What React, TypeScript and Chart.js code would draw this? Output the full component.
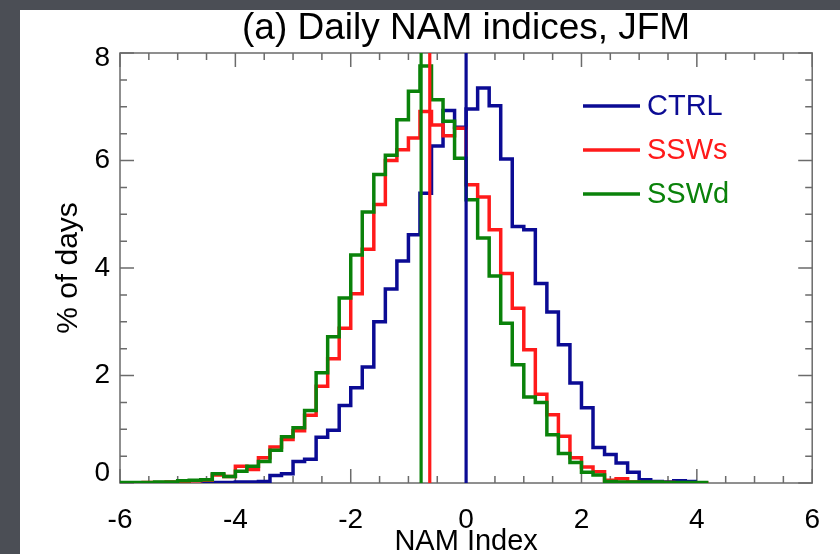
import React, { useEffect, useRef } from "react";
import { Chart, registerables } from "chart.js";

Chart.register(...registerables);

// Histogram bin edges (NAM index), bin width 0.2
const binEdges = [
  -6.0, -5.8, -5.6, -5.4, -5.2, -5.0, -4.8, -4.6, -4.4, -4.2,
  -4.0, -3.8, -3.6, -3.4, -3.2, -3.0, -2.8, -2.6, -2.4, -2.2,
  -2.0, -1.8, -1.6, -1.4, -1.2, -1.0, -0.8, -0.6, -0.4, -0.2,
  0.0, 0.2, 0.4, 0.6, 0.8, 1.0, 1.2, 1.4, 1.6, 1.8,
  2.0, 2.2, 2.4, 2.6, 2.8, 3.0, 3.2, 3.4, 3.6, 3.8,
  4.0, 4.2,
];

// % of days per bin (one value per bin, aligned with binEdges[i]..binEdges[i+1])
const ctrlValues: (number | null)[] = [
  null, null, null, null, null, null, null, 0.01, 0.01, 0.01,
  0.02, 0.02, 0.03, 0.14, 0.17, 0.40, 0.44, 0.85, 0.98, 1.44,
  1.77, 2.16, 3.00, 3.61, 4.13, 4.62, 5.39, 6.27, 6.93, 6.62,
  6.96, 7.35, 7.02, 6.03, 4.77, 4.71, 3.71, 3.18, 2.57, 1.86,
  1.40, 0.66, 0.53, 0.37, 0.20, 0.06, 0.03, 0.02, 0.04, 0.03,
  null,
];

const sswsValues: (number | null)[] = [
  0.00, 0.00, 0.01, 0.01, 0.02, 0.03, 0.04, 0.05, 0.15, 0.12,
  0.31, 0.25, 0.47, 0.67, 0.81, 0.97, 1.26, 1.80, 2.31, 2.88,
  3.52, 4.35, 5.18, 6.00, 6.20, 6.42, 6.91, 6.66, 6.46, 6.60,
  5.55, 5.32, 4.71, 3.90, 3.25, 2.48, 1.65, 1.27, 0.87, 0.47,
  0.30, 0.21, 0.05, 0.08, 0.02, 0.01, 0.01, 0.01, 0.00, 0.00,
  0.00,
];

const sswdValues: (number | null)[] = [
  0.01, 0.01, 0.01, 0.02, 0.02, 0.04, 0.05, 0.06, 0.17, 0.12,
  0.22, 0.31, 0.40, 0.61, 0.86, 1.03, 1.35, 2.05, 2.72, 3.44,
  4.24, 5.04, 5.74, 6.10, 6.76, 7.29, 7.76, 7.13, 6.73, 6.04,
  5.27, 4.56, 3.85, 2.97, 2.20, 1.60, 1.50, 0.90, 0.55, 0.38,
  0.20, 0.15, 0.03, 0.02, 0.02, 0.02, 0.02, 0.01, 0.01, 0.01,
  0.01,
];

// Mean NAM index of each experiment (vertical lines)
const meanValues = [0.0, -0.63, -0.78];

const seriesNames = ["CTRL", "SSWs", "SSWd"];
const seriesColors = ["#0b0b94", "#ff1a1a", "#0a820a"];

const xTickLabels = [-6, -4, -2, 0, 2, 4, 6];
const yTickLabels = [0, 2, 4, 6, 8];

const FONT = "'Liberation Sans', Arial, Helvetica, sans-serif";
const W = 840;
const H = 554;

function toSteps(values: (number | null)[]) {
  const pts: { x: number; y: number }[] = [];
  let last = -1;
  values.forEach((v, i) => {
    if (v !== null) {
      pts.push({ x: binEdges[i], y: v });
      last = i;
    }
  });
  if (last >= 0) pts.push({ x: binEdges[last + 1], y: values[last] as number });
  return pts;
}

const framePlugin = {
  id: "idlFrame",
  beforeDraw(chart: any) {
    const { ctx, width, height } = chart;
    ctx.save();
    ctx.fillStyle = "#4b4e55";
    ctx.fillRect(0, 0, width, 10);
    ctx.fillRect(0, 0, 20, height);
    ctx.fillStyle = "#ffffff";
    ctx.fillRect(20, 10, width + 40, height + 40);
    ctx.restore();
  },
  beforeDatasetsDraw(chart: any) {
    const { ctx, chartArea: a, scales } = chart;
    const xs = scales.x;
    const ys = scales.y;
    ctx.save();
    ctx.strokeStyle = "#6b6b6b";
    ctx.lineWidth = 1.5;
    ctx.strokeRect(a.left, a.top, a.right - a.left, a.bottom - a.top);
    ctx.beginPath();
    for (let k = 0; k <= 24; k++) {
      const v = xs.min + k * 0.5;
      const px = xs.getPixelForValue(v);
      const len = k % 4 === 0 ? 14 : 7;
      ctx.moveTo(px, a.bottom);
      ctx.lineTo(px, a.bottom - len);
      ctx.moveTo(px, a.top);
      ctx.lineTo(px, a.top + len);
    }
    for (let k = 0; k <= 16; k++) {
      const v = ys.min + k * 0.5;
      const py = ys.getPixelForValue(v);
      const len = k % 4 === 0 ? 14 : 7;
      ctx.moveTo(a.left, py);
      ctx.lineTo(a.left + len, py);
      ctx.moveTo(a.right, py);
      ctx.lineTo(a.right - len, py);
    }
    ctx.stroke();

    // y tick labels (end labels nudged inside, as in the original IDL plot)
    ctx.fillStyle = "#000";
    ctx.font = `28px ${FONT}`;
    ctx.textAlign = "right";
    ctx.textBaseline = "middle";
    ys.ticks.forEach((t: any, i: number) => {
      let py = ys.getPixelForValue(t.value);
      if (i === 0) py -= 10;
      if (i === ys.ticks.length - 1) py += 5;
      ctx.fillText(String(t.value), a.left - 10, py);
    });
    ctx.restore();
  },
  afterDraw(chart: any) {
    const { ctx, chartArea: a } = chart;
    ctx.save();
    ctx.font = `29px ${FONT}`;
    ctx.textBaseline = "middle";
    ctx.textAlign = "left";
    const x0 = a.left + 463;
    const x1 = a.left + 520;
    seriesNames.forEach((name, i) => {
      const y = a.top + 53 + i * 44;
      ctx.strokeStyle = seriesColors[i];
      ctx.lineWidth = 3.5;
      ctx.beginPath();
      ctx.moveTo(x0, y);
      ctx.lineTo(x1, y);
      ctx.stroke();
      ctx.fillStyle = seriesColors[i];
      ctx.fillText(name, x1 + 7, y + 1);
    });
    ctx.restore();
  },
};

export default function App() {
  const canvasRef = useRef<HTMLCanvasElement | null>(null);

  useEffect(() => {
    document.documentElement.style.overflow = "hidden";
    document.documentElement.style.background = "#ffffff";
    document.body.style.margin = "0";
    document.body.style.overflow = "hidden";
    document.body.style.background = "#ffffff";
    const canvas = canvasRef.current;
    if (!canvas) return;

    const histSets = [ctrlValues, sswsValues, sswdValues].map((vals, i) => ({
      label: seriesNames[i],
      data: toSteps(vals),
      borderColor: seriesColors[i],
      backgroundColor: seriesColors[i],
      borderWidth: 3.5,
      pointRadius: 0,
      stepped: "before" as const,
      fill: false,
      tension: 0,
      borderJoinStyle: "miter" as const,
      order: 3 - i,
    }));

    const meanSets = meanValues.map((m, i) => ({
      label: seriesNames[i] + " mean",
      data: [
        { x: m, y: yTickLabels[0] },
        { x: m, y: yTickLabels[yTickLabels.length - 1] },
      ],
      borderColor: seriesColors[i],
      borderWidth: 3.2,
      pointRadius: 0,
      fill: false,
      order: 0,
    }));

    const chart = new Chart(canvas, {
      type: "line",
      data: { datasets: [...histSets, ...meanSets] as any },
      plugins: [framePlugin],
      options: {
        animation: false,
        responsive: false,
        maintainAspectRatio: false,
        devicePixelRatio: 1,
        events: [],
        layout: { padding: { left: 0, right: 26, top: 10, bottom: 0 } },
        plugins: {
          legend: { display: false },
          tooltip: { enabled: false },
          title: {
            display: true,
            text: "(a) Daily NAM indices, JFM",
            color: "#000",
            fullSize: false,
            font: { family: FONT, size: 37, weight: "normal", lineHeight: 1 },
            padding: { top: 0, bottom: 6 },
          },
        },
        scales: {
          x: {
            type: "linear",
            min: xTickLabels[0],
            max: xTickLabels[xTickLabels.length - 1],
            afterBuildTicks: (s: any) => {
              s.ticks = xTickLabels.map((v) => ({ value: v }));
            },
            ticks: {
              color: "#000",
              font: { family: FONT, size: 28 },
              padding: 20,
              maxRotation: 0,
              autoSkip: false,
            },
            grid: { display: false, drawTicks: false },
            border: { display: false },
            title: {
              display: true,
              text: "NAM Index",
              color: "#000",
              font: { family: FONT, size: 29, lineHeight: 0.86 },
              padding: { top: 0, bottom: 0 },
            },
            afterFit: (s: any) => {
              s.height = 71;
            },
          },
          y: {
            type: "linear",
            min: yTickLabels[0],
            max: yTickLabels[yTickLabels.length - 1],
            afterBuildTicks: (s: any) => {
              s.ticks = yTickLabels.map((v) => ({ value: v }));
            },
            ticks: {
              display: false,
              autoSkip: false,
            },
            grid: { display: false, drawTicks: false },
            border: { display: false },
            title: {
              display: true,
              text: "% of days",
              color: "#000",
              font: { family: FONT, size: 30, lineHeight: 1.2 },
              padding: { top: 51, bottom: 0 },
            },
            afterFit: (s: any) => {
              s.width = 120;
            },
          },
        },
      } as any,
    });

    return () => chart.destroy();
  }, []);

  return (
    <div style={{ position: "fixed", left: 0, top: 0, width: W, height: H }}>
      <canvas ref={canvasRef} width={W} height={H} style={{ width: W, height: H, display: "block" }} />
    </div>
  );
}
